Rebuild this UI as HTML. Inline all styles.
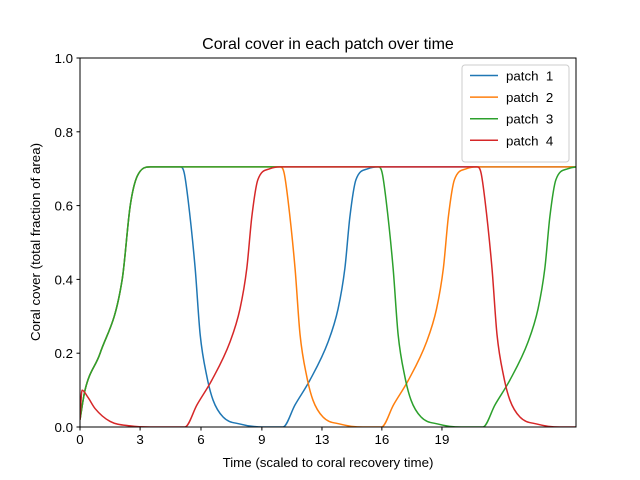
<!DOCTYPE html>
<html><head><meta charset="utf-8"><style>body{margin:0;background:#fff}svg{display:block;font-family:"Liberation Sans","DejaVu Sans",sans-serif}</style></head>
<body>
<svg id="chart" width="640" height="480" viewBox="0 0 640 480" xmlns="http://www.w3.org/2000/svg">
<rect width="640" height="480" fill="#fff"/>
<text x="328" y="49" text-anchor="middle" font-size="16">Coral cover in each patch over time</text>
<g id="plot"></g>
<rect x="80" y="58" width="496" height="369" fill="none" stroke="#000" stroke-width="1"/>
<g id="ticks"></g>
<text x="328" y="467" text-anchor="middle" font-size="13.3">Time (scaled to coral recovery time)</text>
<text transform="translate(40,242) rotate(-90)" text-anchor="middle" font-size="13.3">Coral cover (total fraction of area)</text>
<g id="legend"></g>
</svg>
<script>
const seriesNames=["patch  1","patch  2","patch  3","patch  4"];
const colors=["#1f77b4","#ff7f0e","#2ca02c","#d62728"];
const blueT=[0,0.25,1.0,2.1,2.5,2.85,3.5,4.98,5.18,5.38,5.73,5.98,6.32,6.62,7.12,7.97,9.11,10.1,10.7,11.44,12.34,12.84,13.18,13.43,13.73,14.33,14.83,24.68];
const blueY=[0.02,0.1,0.2,0.4,0.6,0.68,0.705,0.705,0.69,0.615,0.43,0.25,0.135,0.073,0.027,0.008,0,0,0.06,0.127,0.23,0.32,0.43,0.57,0.67,0.70,0.705,0.705];
const orangeT=[0,0.25,1.0,2.1,2.5,2.85,3.5,9.95,10.15,10.35,10.7,10.95,11.29,11.59,12.09,12.94,14.08,15.0,15.6,16.34,17.24,17.74,18.08,18.33,18.63,19.23,19.73,24.68];
const orangeY=[0.02,0.1,0.2,0.4,0.6,0.68,0.705,0.705,0.69,0.615,0.43,0.25,0.135,0.073,0.027,0.008,0,0,0.06,0.127,0.23,0.32,0.43,0.57,0.67,0.70,0.705,0.705];
const greenT=[0,0.25,1.0,2.1,2.5,2.85,3.5,14.83,15.03,15.23,15.58,15.83,16.17,16.47,16.97,17.82,18.96,20.05,20.65,21.39,22.29,22.79,23.13,23.38,23.68,24.28,24.68];
const greenY=[0.02,0.1,0.2,0.4,0.6,0.68,0.705,0.705,0.69,0.615,0.43,0.25,0.135,0.073,0.027,0.008,0,0,0.06,0.127,0.23,0.32,0.43,0.57,0.67,0.70,0.705];
const redT=[0,0.1,0.4,0.75,1.5,2.5,3.5,5.22,5.82,6.56,7.46,7.96,8.30,8.55,8.85,9.45,9.95,19.75,19.95,20.15,20.5,20.75,21.09,21.39,21.89,22.74,23.88,24.68];
const redY=[0.02,0.1,0.08,0.05,0.015,0.003,0,0,0.06,0.127,0.23,0.32,0.43,0.57,0.67,0.70,0.705,0.705,0.69,0.615,0.43,0.25,0.135,0.073,0.027,0.008,0,0];
const xTickVals=[0,2.99,6.02,9.05,12.04,15.02,18.01];
const xTickLabels=["0","3","6","9","13","16","19"];
const yTickVals=[0,0.2,0.4,0.6,0.8,1.0];
const yTickLabels=["0.0","0.2","0.4","0.6","0.8","1.0"];
const X0=80,X1=576,Y0=427,Y1=58,TMAX=24.68;
function sx(t){return X0+t/TMAX*(X1-X0);}
function sy(v){return Y0-v*(Y0-Y1);}
const NS="http://www.w3.org/2000/svg";
function mk(tag,attrs){const e=document.createElementNS(NS,tag);for(const k in attrs)e.setAttribute(k,attrs[k]);return e;}
function monoPath(xs,ys){
  const n=xs.length,d=[],m=new Array(n);
  for(let i=0;i<n-1;i++)d.push((ys[i+1]-ys[i])/(xs[i+1]-xs[i]));
  m[0]=d[0];m[n-1]=d[n-2];
  for(let i=1;i<n-1;i++){m[i]=(d[i-1]*d[i]<=0)?0:(d[i-1]+d[i])/2;}
  for(let i=0;i<n-1;i++){
    if(d[i]===0){m[i]=0;m[i+1]=0;continue;}
    const a=m[i]/d[i],b=m[i+1]/d[i],h=a*a+b*b;
    if(h>9){const t=3/Math.sqrt(h);m[i]=t*a*d[i];m[i+1]=t*b*d[i];}
  }
  let p='M'+xs[0].toFixed(2)+','+ys[0].toFixed(2);
  for(let i=0;i<n-1;i++){
    const h=(xs[i+1]-xs[i])/3;
    p+=' C'+(xs[i]+h).toFixed(2)+','+(ys[i]+m[i]*h).toFixed(2)+' '+(xs[i+1]-h).toFixed(2)+','+(ys[i+1]-m[i+1]*h).toFixed(2)+' '+xs[i+1].toFixed(2)+','+ys[i+1].toFixed(2);
  }
  return p;
}
const plot=document.getElementById('plot');
const clip=mk('clipPath',{id:'pc'});clip.appendChild(mk('rect',{x:X0,y:Y1,width:X1-X0,height:Y0-Y1}));plot.appendChild(clip);
const allT=[blueT,orangeT,greenT,redT],allY=[blueY,orangeY,greenY,redY];
const lineNames=['patch-1-line','patch-2-line','patch-3-line','patch-4-line'];
for(let s=0;s<4;s++){
  const xs=allT[s].map(sx),ys=allY[s].map(sy);
  const pl=mk('path',{d:monoPath(xs,ys),fill:'none',stroke:colors[s],'stroke-width':1.5,'stroke-linejoin':'round','clip-path':'url(#pc)'});
  
  
  plot.appendChild(pl);
}
const tk=document.getElementById('ticks');
xTickVals.forEach((v,i)=>{
  const x=sx(v);
  const l=mk('line',{x1:x,x2:x,y1:Y0,y2:Y0+3.5,stroke:'#000'});
  
  
  tk.appendChild(l);
  const t=mk('text',{x:x,y:Y0+17,'text-anchor':'middle','font-size':13.3});t.textContent=xTickLabels[i];
  
  
  tk.appendChild(t);
});
yTickVals.forEach((v,i)=>{
  const y=sy(v);
  const l=mk('line',{x1:X0-3.5,x2:X0,y1:y,y2:y,stroke:'#000'});
  
  
  tk.appendChild(l);
  const t=mk('text',{x:X0-7,y:y+5,'text-anchor':'end','font-size':13.3});t.textContent=yTickLabels[i];
  
  
  tk.appendChild(t);
});
const lg=document.getElementById('legend');
const box=mk('rect',{x:462,y:65,width:107,height:97,rx:3,fill:'#fff','fill-opacity':0.8,stroke:'#ccc'});


lg.appendChild(box);
seriesNames.forEach((n,i)=>{
  const y=75.5+i*21.6;
  const l=mk('line',{x1:470,x2:498,y1:y,y2:y,stroke:colors[i],'stroke-width':1.5});
  
  
  lg.appendChild(l);
  const t=mk('text',{x:506,y:y+5,'font-size':13.3});t.textContent=n;t.style.whiteSpace='pre';
  
  
  lg.appendChild(t);
});
</script>
</body></html>
